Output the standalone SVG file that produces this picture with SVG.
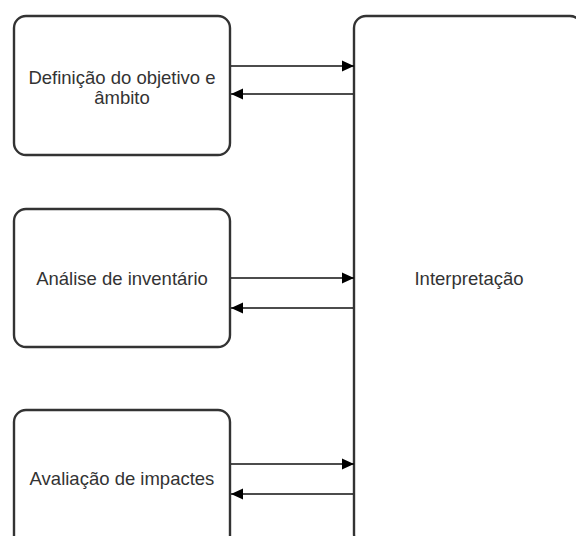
<svg xmlns="http://www.w3.org/2000/svg" width="576" height="536" viewBox="0 0 576 536">
<defs>
<style>
.box{fill:#fff;stroke:#333;stroke-width:2.4}
.lbl{font-family:"Liberation Sans",Arial,sans-serif;font-size:18.5px;fill:#333;text-anchor:middle}
.conn{stroke:#111;stroke-width:1.4;fill:none}
</style>
<marker id="ah" viewBox="0 0 12 12" refX="12" refY="6" markerWidth="12" markerHeight="12" markerUnits="userSpaceOnUse" orient="auto">
<path d="M0,0.5 L12,6 L0,11.5 Z" fill="#000"/>
</marker>
</defs>
<rect width="576" height="536" fill="#fff"/>
<g id="n1"><rect class="box" x="14" y="16" width="216" height="139" rx="12"/>
<text class="lbl" x="122" y="84">Definição do objetivo e</text>
<text class="lbl" x="122" y="104">âmbito</text></g>
<g id="n2"><rect class="box" x="14" y="209" width="216" height="138" rx="12"/>
<text class="lbl" x="122" y="285">Análise de inventário</text></g>
<g id="n3"><rect class="box" x="14" y="410" width="216" height="138" rx="12"/>
<text class="lbl" x="122" y="485">Avaliação de impactes</text></g>
<g id="n4"><rect class="box" x="354" y="16" width="228" height="530" rx="12"/>
<text class="lbl" x="469" y="285">Interpretação</text></g>
<g id="connectors">
<line class="conn" x1="231" y1="66" x2="354" y2="66" marker-end="url(#ah)"/>
<line class="conn" x1="353" y1="94" x2="231" y2="94" marker-end="url(#ah)"/>
<line class="conn" x1="231" y1="278" x2="354" y2="278" marker-end="url(#ah)"/>
<line class="conn" x1="353" y1="308" x2="231" y2="308" marker-end="url(#ah)"/>
<line class="conn" x1="231" y1="464" x2="354" y2="464" marker-end="url(#ah)"/>
<line class="conn" x1="353" y1="494" x2="231" y2="494" marker-end="url(#ah)"/>
</g>
</svg>
